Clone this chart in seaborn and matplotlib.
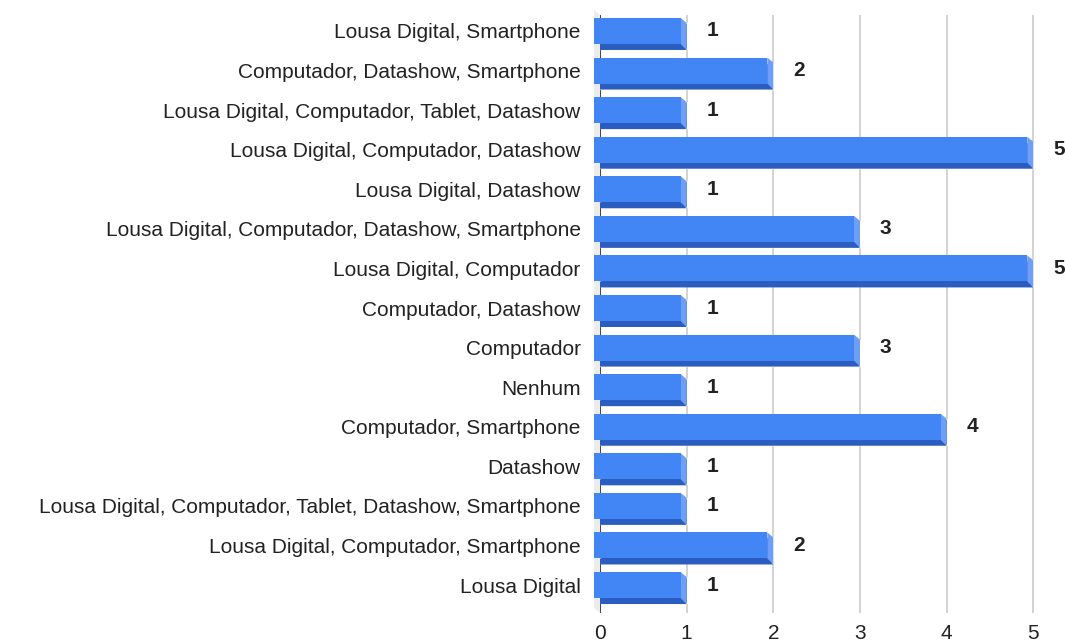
import matplotlib
matplotlib.use("Agg")
import matplotlib.pyplot as plt
from matplotlib.patches import Polygon
import seaborn as sns
import numpy as np

# chart data (top to bottom)
categories = [
    "Lousa Digital, Smartphone",
    "Computador, Datashow, Smartphone",
    "Lousa Digital, Computador, Tablet, Datashow",
    "Lousa Digital, Computador, Datashow",
    "Lousa Digital, Datashow",
    "Lousa Digital, Computador, Datashow, Smartphone",
    "Lousa Digital, Computador",
    "Computador, Datashow",
    "Computador",
    "Nenhum",
    "Computador, Smartphone",
    "Datashow",
    "Lousa Digital, Computador, Tablet, Datashow, Smartphone",
    "Lousa Digital, Computador, Smartphone",
    "Lousa Digital",
]
counts = [1, 2, 1, 5, 1, 3, 5, 1, 3, 1, 4, 1, 1, 2, 1]
x_ticks = [0, 1, 2, 3, 4, 5]

FRONT = "#4285f4"
BOTTOM = "#2b5cc0"
SIDE = "#6d9ff6"

sns.set_style("white")
plt.rcParams["font.family"] = ["Liberation Sans", "DejaVu Sans"]

W, H = 1065, 641
fig = plt.figure(figsize=(W / 100, H / 100), dpi=100)
ax = fig.add_axes([600 / W, 1 - 613 / H, 435 / W, 598 / H])

bar_h = 0.657
sns.barplot(x=counts, y=categories, orient="h", width=bar_h, color=BOTTOM,
            saturation=1, ax=ax, zorder=2)

ax.set_xlim(0, 5.02)
ax.set_ylim(14.58, -0.53)

# pixel size of one data unit, for the 3D offset
p0 = ax.transData.transform((0, 0))
p1 = ax.transData.transform((1, 1))
ux = abs(p1[0] - p0[0])
uy = abs(p1[1] - p0[1])
dx = 6 / ux
dy = 5 / uy
bd = 1 / uy  # a little deeper bottom face

for v, c in zip(counts, range(len(categories))):
    top, bot = c - bar_h / 2, c + bar_h / 2
    # bottom face
    ax.add_patch(Polygon([(-dx, bot - dy), (v - dx, bot - dy), (v, bot + bd), (0, bot + bd)],
                         closed=True, fc=BOTTOM, ec="none", zorder=3))
    # right side face
    ax.add_patch(Polygon([(v - dx, top - dy), (v, top), (v, bot + bd), (v - dx, bot - dy)],
                         closed=True, fc=SIDE, ec="none", zorder=3))
    # front face
    ax.add_patch(Polygon([(-dx, top - dy), (v - dx, top - dy), (v - dx, bot - dy), (-dx, bot - dy)],
                         closed=True, fc=FRONT, ec="none", zorder=4, clip_on=False))
    ax.text(v + 20 / ux, c - dy, str(v), ha="left", va="center", fontsize=15,
            fontweight="bold", color="#222222", clip_on=False)

# left wall of the 3D frame
y0, y1 = ax.get_ylim()
ax.add_patch(Polygon([(0, y1), (0, y0), (-dx, y0 - dy), (-dx, y1 - dy)],
                     closed=True, fc="#ececec", ec="none", zorder=1, clip_on=False))

for t in x_ticks[1:]:
    ax.axvline(t, color="#cccccc", lw=1.2, zorder=0)
ax.axvline(0, color="#333333", lw=1.3, zorder=1)

for s in ax.spines.values():
    s.set_visible(False)

ax.set_xticks(x_ticks)
ax.set_xticklabels([str(t) for t in x_ticks], fontsize=15, color="#222222")
ax.set_yticks(np.arange(len(categories)) - dy)
ax.set_yticklabels(categories, fontsize=15, color="#222222")
ax.tick_params(axis="x", length=0, pad=8)
ax.tick_params(axis="y", length=0, pad=14)
ax.set_xlabel("")
ax.set_ylabel("")
ax.grid(False)

fig.savefig("out.png", dpi=100)
